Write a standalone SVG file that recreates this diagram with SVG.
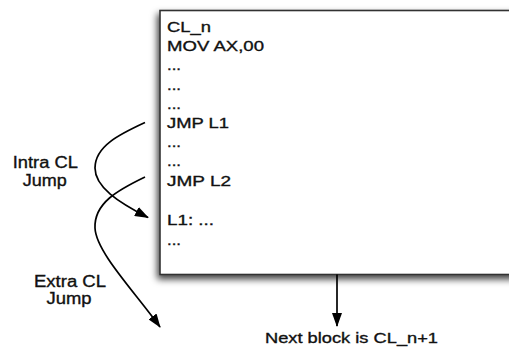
<svg xmlns="http://www.w3.org/2000/svg" width="509" height="347" viewBox="0 0 509 347">
<defs>
<style>
.t{font-family:"Liberation Sans",Arial,sans-serif;font-size:15px;fill:#111;stroke:#111;stroke-width:0.35}
.l{font-family:"Liberation Sans",Arial,sans-serif;font-size:16px;fill:#111;stroke:#111;stroke-width:0.35;text-anchor:middle}
.c{fill:none;stroke:#000;stroke-width:1.7}
</style>
<filter id="sh" x="-20%" y="-20%" width="140%" height="140%">
<feDropShadow dx="-2" dy="4" stdDeviation="3.5" flood-color="#000" flood-opacity="0.75"/>
</filter>
<marker id="ah" viewBox="0 0 14 10" refX="13" refY="5" markerWidth="14" markerHeight="10" markerUnits="userSpaceOnUse" orient="auto">
<path d="M0,0 L14,5 L0,10 Z" fill="#000"/>
</marker>
</defs>
<g id="block">
<rect x="160" y="10.5" width="360" height="264" fill="#fff" stroke="#333" stroke-width="1.6" filter="url(#sh)"/>
<text class="t" x="167" y="32" textLength="44" lengthAdjust="spacingAndGlyphs">CL_n</text>
<text class="t" x="167" y="51.2" textLength="97" lengthAdjust="spacingAndGlyphs">MOV AX,00</text>
<text class="t" x="167" y="70.4" textLength="14" lengthAdjust="spacingAndGlyphs">...</text>
<text class="t" x="167" y="89.6" textLength="14" lengthAdjust="spacingAndGlyphs">...</text>
<text class="t" x="167" y="108.8" textLength="14" lengthAdjust="spacingAndGlyphs">...</text>
<text class="t" x="167" y="128" textLength="62" lengthAdjust="spacingAndGlyphs">JMP L1</text>
<text class="t" x="167" y="147.2" textLength="14" lengthAdjust="spacingAndGlyphs">...</text>
<text class="t" x="167" y="166.4" textLength="14" lengthAdjust="spacingAndGlyphs">...</text>
<text class="t" x="167" y="185.6" textLength="64" lengthAdjust="spacingAndGlyphs">JMP L2</text>
<text class="t" x="167" y="225" textLength="47" lengthAdjust="spacingAndGlyphs">L1: ...</text>
<text class="t" x="167" y="244.5" textLength="14" lengthAdjust="spacingAndGlyphs">...</text>
</g>
<g id="intra-label">
<text class="l" x="45.3" y="167.7" textLength="65" lengthAdjust="spacingAndGlyphs">Intra CL</text>
<text class="l" x="44.7" y="185.5" textLength="44" lengthAdjust="spacingAndGlyphs">Jump</text>
</g>
<g id="extra-label">
<text class="l" x="70" y="286.7" textLength="72" lengthAdjust="spacingAndGlyphs">Extra CL</text>
<text class="l" x="69" y="304" textLength="45" lengthAdjust="spacingAndGlyphs">Jump</text>
</g>
<g id="next-label">
<text class="t" x="265" y="343" textLength="173" lengthAdjust="spacingAndGlyphs">Next block is CL_n+1</text>
</g>
<g id="connectors">
<path class="c" d="M145,122.5 C120,134 95,146 95,168 C95,187 118,202 148,217.5" marker-end="url(#ah)"/>
<path class="c" d="M145,177 C118,190 94,203 95,228 C96,252 135,292 160,327" marker-end="url(#ah)"/>
<path class="c" d="M337,274.5 L337,326" marker-end="url(#ah)"/>
</g>
</svg>
